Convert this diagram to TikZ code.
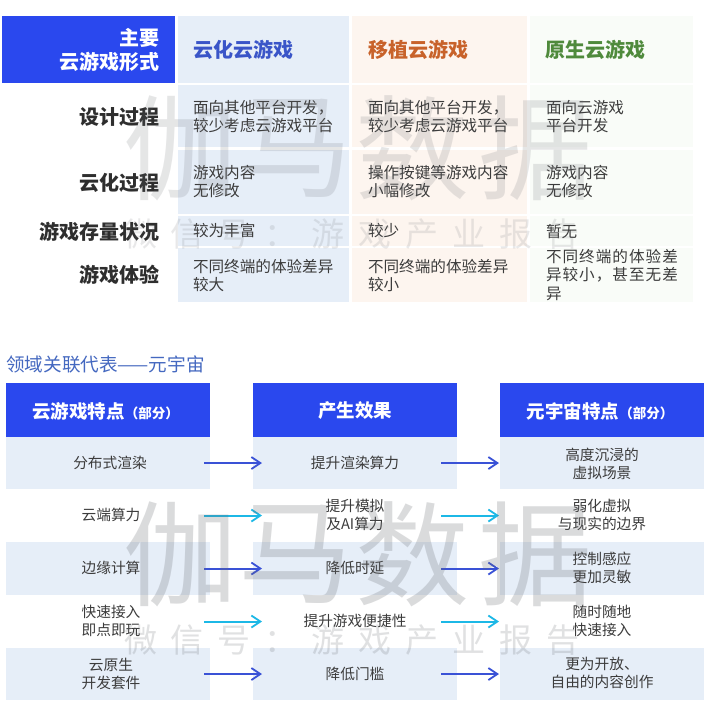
\documentclass[tikz,border=0pt]{standalone}
\usepackage{fontspec}
\setmainfont{Noto Sans CJK SC}
\newfontfamily\wide[LetterSpace=6.5]{Noto Sans CJK SC}
\usetikzlibrary{arrows.meta}
\definecolor{hdr}{HTML}{2A48EE}
\definecolor{cellblue}{HTML}{E6EEF8}
\definecolor{cellorange}{HTML}{FDF5EF}
\definecolor{cellgreen}{HTML}{F9FCF8}
\definecolor{ink}{HTML}{3C3C3C}
\definecolor{arrowblue}{HTML}{3A52D6}
\definecolor{arrowcyan}{HTML}{1CB8E6}
\definecolor{titleblue}{HTML}{3A55C8}
\definecolor{titleorange}{HTML}{C8622A}
\definecolor{titlegreen}{HTML}{4F8A3C}
\definecolor{lowertitle}{HTML}{4468C0}
\tikzset{
  box/.style={inner sep=0pt,outer sep=0pt,anchor=north west},
  txt/.style={inner sep=0pt,outer sep=0pt,text=ink,font=\fontsize{15.6}{18}\selectfont},
  celltxt/.style={txt,anchor=west,align=left},
  midtxt/.style={txt,anchor=center,align=center,font=\fontsize{14.7}{18}\selectfont},
  rowlab/.style={inner sep=0pt,anchor=east,align=right,text=black!82,font=\fontsize{20}{24}\selectfont\bfseries},
  coltitle/.style={inner sep=0pt,anchor=west,font=\fontsize{20}{24}\selectfont\bfseries},
  hdrtxt/.style={inner sep=0pt,anchor=center,text=white,font=\fontsize{18.5}{24}\selectfont\bfseries},
  firstgap/.style={shorten <=-6pt,shorten >=-9pt},
  secondgap/.style={shorten <=-16pt,shorten >=1pt},
  bluelink/.style={arrowblue,line width=2pt,-{Straight Barb[length=9pt,width=12pt,line width=1.8pt]}},
  cyanlink/.style={arrowcyan,line width=2pt,-{Straight Barb[length=9pt,width=12pt,line width=1.8pt]}},
  bigmark/.style={inner sep=0pt,anchor=center,text=black!55!cellblue,font=\fontsize{114}{114}\selectfont},
  smallmark/.style={inner sep=0pt,anchor=center,text=black!55!cellblue,font=\fontsize{33}{33}\selectfont}
}
\newcommand{\cellbox}[6]{\node[box,fill=#6,minimum width=#4pt,minimum height=#5pt] (#1) at (#2,#3) {};}
\begin{document}
\begin{tikzpicture}[x=1pt,y=-1pt]
\useasboundingbox (0,0) rectangle (727,713);
\fill[white] (0,0) rectangle (727,713);
% top table
\cellbox{thead}{2}{16}{173}{67}{hdr}
\foreach \n/\x/\w/\c in {a/178/171/cellblue,b/352/175/cellorange,c/530/163/cellgreen}{
  \cellbox{\n0}{\x}{16}{\w}{67}{\c}
  \cellbox{\n1}{\x}{85}{\w}{62}{\c}
  \cellbox{\n2}{\x}{150}{\w}{64}{\c}
  \cellbox{\n3}{\x}{216}{\w}{30}{\c}
  \cellbox{\n4}{\x}{248}{\w}{54}{\c}
}
\node[inner sep=0pt,anchor=east,align=right,text=white,font=\fontsize{20}{24}\selectfont\bfseries] (theadtxt) at (160,50) {主要\\云游戏形式};
\node[coltitle,text=titleblue] (ta) at (193,50) {云化云游戏};
\node[coltitle,text=titleorange] (tb) at (368,50) {移植云游戏};
\node[coltitle,text=titlegreen] (tc) at (545,50) {原生云游戏};
\node[rowlab] (r1) at (160,117) {设计过程};
\node[rowlab] (r2) at (160,183) {云化过程};
\node[rowlab] (r3) at (160,232) {游戏存量状况};
\node[rowlab] (r4) at (160,275) {游戏体验};
\node[celltxt] (a1t) at (193,117) {面向其他平台开发，\\较少考虑云游戏平台};
\node[celltxt] (b1t) at (368,117) {面向其他平台开发，\\较少考虑云游戏平台};
\node[celltxt] (c1t) at (546,117) {面向云游戏\\平台开发};
\node[celltxt] (a2t) at (193,182) {游戏内容\\无修改};
\node[celltxt] (b2t) at (368,182) {操作按键等游戏内容\\小幅修改};
\node[celltxt] (c2t) at (546,182) {游戏内容\\无修改};
\node[celltxt] (a3t) at (193,231) {较为丰富};
\node[celltxt] (b3t) at (368,231) {较少};
\node[celltxt] (c3t) at (546,232) {暂无};
\node[celltxt] (a4t) at (193,276) {不同终端的体验差异\\较大};
\node[celltxt] (b4t) at (368,276) {不同终端的体验差异\\较小};
\node[celltxt,font=\fontsize{15.6}{18.5}\selectfont\wide] (c4t) at (546,275) {不同终端的体验差\\异较小，甚至无差\\异};
% lower title
\node[inner sep=0pt,anchor=west,text=lowertitle,font=\fontsize{18.6}{20}\selectfont] (ltitle) at (6,364) {领域关联代表——元宇宙};
% lower table
\foreach \n/\x in {p/6,q/253,s/500}{
  \cellbox{\n0}{\x}{383}{204}{54}{hdr}
  \cellbox{\n1}{\x}{437}{204}{52}{cellblue}
  \node[box,minimum width=204pt,minimum height=53pt] (\n2) at (\x,489) {};
  \cellbox{\n3}{\x}{542}{204}{53}{cellblue}
  \node[box,minimum width=204pt,minimum height=53pt] (\n4) at (\x,595) {};
  \cellbox{\n5}{\x}{648}{204}{52}{cellblue}
}
\node[hdrtxt] (p0t) at (105.5,411) {云游戏特点\fontsize{13.5}{24}\selectfont（部分）};
\node[hdrtxt] (q0t) at (355,411) {产生效果};
\node[hdrtxt] (s0t) at (600,411) {元宇宙特点\fontsize{13.5}{24}\selectfont（部分）};
\node[midtxt] (p1t) at (110,463) {分布式渲染};
\node[midtxt] (p2t) at (111,515) {云端算力};
\node[midtxt] (p3t) at (111,568) {边缘计算};
\node[midtxt] (p4t) at (111,621) {快速接入\\即点即玩};
\node[midtxt] (p5t) at (111,674) {云原生\\开发套件};
\node[midtxt] (q1t) at (355,463) {提升渲染算力};
\node[midtxt] (q2t) at (355,515) {提升模拟\\及AI算力};
\node[midtxt] (q3t) at (355,568) {降低时延};
\node[midtxt] (q4t) at (355,621) {提升游戏便捷性};
\node[midtxt] (q5t) at (355,674) {降低门槛};
\node[midtxt] (s1t) at (602,464) {高度沉浸的\\虚拟场景};
\node[midtxt] (s2t) at (602,515) {弱化虚拟\\与现实的边界};
\node[midtxt] (s3t) at (602,568) {控制感应\\更加灵敏};
\node[midtxt] (s4t) at (602,621) {随时随地\\快速接入};
\node[midtxt] (s5t) at (602,673) {更为开放、\\自由的内容创作};
% connectors
\foreach \r/\st in {1/bluelink,2/cyanlink,3/bluelink,4/cyanlink,5/bluelink}{
  \draw[\st,firstgap] (p\r.east) -- (q\r.west);
  \draw[\st,secondgap] (q\r.east) -- (s\r.west);
}
% watermarks
\foreach \k/\dy/\ob/\os in {u/0/.17/.15,v/406/.24/.2}{
  \node[bigmark,opacity=\ob] (\k big1) at (180,148+\dy) {伽};
  \node[bigmark,opacity=\ob] (\k big2) at (295,148+\dy) {马};
  \node[bigmark,opacity=\ob] (\k big3) at (412,148+\dy) {数};
  \node[bigmark,opacity=\ob] (\k big4) at (535,148+\dy) {据};
  \node[smallmark,opacity=\os] (\k sm) at (352,234+\dy) {微\hspace{14pt}信\hspace{14pt}号\hspace{14pt}：\hspace{14pt}游\hspace{14pt}戏\hspace{14pt}产\hspace{14pt}业\hspace{14pt}报\hspace{14pt}告};
}
\end{tikzpicture}
\end{document}
